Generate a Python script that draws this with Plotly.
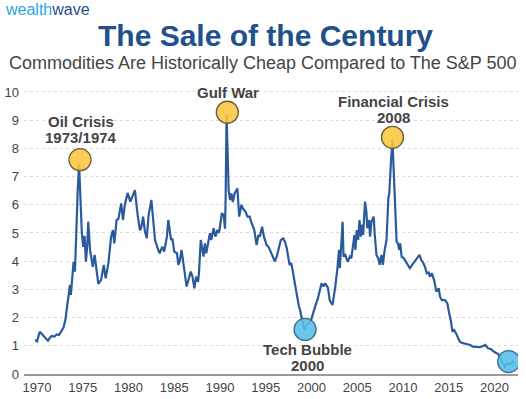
import plotly.graph_objects as go

# ---- data ----
years = [1969.8, 1970.0, 1970.3, 1970.5, 1970.7, 1971.0, 1971.2, 1971.4, 1971.6, 1971.9,
         1972.15, 1972.4, 1972.7, 1972.9, 1973.1, 1973.3, 1973.45, 1973.6, 1973.7, 1973.85,
         1974.0, 1974.15, 1974.3, 1974.45, 1974.6, 1974.75, 1974.9, 1975.05, 1975.2, 1975.35,
         1975.5, 1975.6, 1975.8, 1976.0, 1976.1, 1976.3, 1976.5, 1976.7, 1977.0, 1977.3,
         1977.5, 1977.8, 1978.1, 1978.3, 1978.45, 1978.7, 1978.9, 1979.2, 1979.4, 1979.6,
         1979.9, 1980.2, 1980.5, 1980.7, 1981.0, 1981.25, 1981.4, 1981.6, 1981.8, 1982.0,
         1982.2, 1982.5, 1982.7, 1982.9, 1983.25, 1983.4, 1983.7, 1983.9, 1984.2, 1984.35,
         1984.65, 1984.8, 1985.0, 1985.3, 1985.45, 1985.6, 1985.8, 1986.0, 1986.2, 1986.35,
         1986.5, 1986.8, 1987.0, 1987.2, 1987.4, 1987.6, 1987.7, 1987.9, 1988.2, 1988.35,
         1988.5, 1988.7, 1988.9, 1989.05, 1989.3, 1989.5, 1989.7, 1989.9, 1990.2, 1990.4,
         1990.55, 1990.62, 1990.72, 1990.82, 1990.95, 1991.1, 1991.25, 1991.4, 1991.6, 1991.9,
         1992.1, 1992.35, 1992.5, 1992.8, 1993.0, 1993.25, 1993.4, 1993.75, 1994.0, 1994.2,
         1994.35, 1994.6, 1994.8, 1995.1, 1995.3, 1995.45, 1995.8, 1996.0, 1996.2, 1996.35,
         1996.65, 1996.9, 1997.1, 1997.3, 1997.45, 1997.6, 1997.8, 1998.0, 1998.2, 1998.4,
         1998.6, 1998.75, 1998.9, 1999.1, 1999.2, 1999.45, 1999.7, 1999.95, 2000.1, 2000.3,
         2000.45, 2000.7, 2000.9, 2001.1, 2001.3, 2001.5, 2001.8, 2002.0, 2002.3, 2002.5,
         2002.6, 2002.85, 2003.0, 2003.1, 2003.2, 2003.4, 2003.5, 2003.7, 2003.95, 2004.2,
         2004.35, 2004.55, 2004.7, 2004.8, 2004.95, 2005.1, 2005.25, 2005.4, 2005.55, 2005.65,
         2005.85, 2006.0, 2006.1, 2006.3, 2006.4, 2006.55, 2006.8, 2006.9, 2007.1, 2007.3,
         2007.45, 2007.65, 2007.8, 2008.0, 2008.2, 2008.4, 2008.5, 2008.7, 2008.85, 2009.0,
         2009.2, 2009.3, 2009.45, 2009.6, 2009.7, 2009.85, 2010.1, 2010.3, 2010.5, 2010.75,
         2011.0, 2011.3, 2011.55, 2011.8, 2012.0, 2012.2, 2012.4, 2012.6, 2012.8, 2012.95,
         2013.15, 2013.4, 2013.65, 2013.9, 2014.05, 2014.25, 2014.6, 2014.85, 2015.05, 2015.25,
         2015.4, 2015.6, 2015.8, 2015.95, 2016.2, 2016.4, 2016.65, 2016.85, 2017.1, 2017.35,
         2017.65, 2018.0, 2018.4, 2018.75, 2019.0, 2019.3, 2019.6, 2019.95, 2020.4, 2020.75,
         2021.15, 2021.4, 2021.7, 2022.0, 2022.2]
ratio = [1.21, 1.16, 1.5, 1.42, 1.38, 1.25, 1.18, 1.28, 1.35, 1.33,
         1.4, 1.38, 1.52, 1.65, 1.91, 2.4, 2.85, 3.16, 2.8, 3.5,
         3.98, 3.63, 5.4, 6.5, 7.45, 6.2, 5.0, 4.51, 4.9, 3.98,
         4.6, 5.4, 4.4, 4.0, 3.8, 4.22, 3.75, 3.2, 3.33, 3.87,
         3.39, 3.92, 4.87, 5.1, 4.63, 5.46, 5.5, 6.05, 5.46, 6.0,
         6.42, 6.11, 6.35, 6.52, 5.64, 5.1, 5.2, 5.58, 5.05, 4.81,
         5.64, 6.17, 5.46, 4.75, 4.4, 4.28, 4.51, 4.34, 4.87, 5.46,
         4.75, 4.8, 4.34, 4.28, 3.87, 4.0, 4.4, 3.92, 3.33, 3.1,
         3.27, 3.63, 3.45, 3.04, 3.45, 3.27, 3.57, 4.75, 4.16, 4.63,
         4.28, 4.63, 4.99, 4.75, 5.17, 4.87, 5.1, 5.0, 5.7, 5.64,
         5.15, 6.3, 9.2, 8.0, 6.5, 6.17, 6.4, 6.1, 6.4, 6.58,
         5.58, 6.0, 5.87, 5.75, 5.58, 5.58, 5.4, 5.1, 4.57, 4.93,
         4.87, 5.22, 4.87, 4.57, 4.51, 4.4, 4.1, 3.99, 4.16, 4.4,
         4.75, 4.81, 4.69, 4.46, 4.16, 3.87, 3.93, 3.57, 3.1, 2.74,
         2.44, 2.27, 2.03, 1.8, 1.56, 1.74, 1.8, 1.91, 2.09, 2.27,
         2.44, 2.68, 2.92, 3.22, 3.1, 3.22, 3.05, 2.6, 2.45, 2.86,
         3.1, 3.8, 4.4, 3.75, 4.4, 5.4, 4.16, 4.22, 3.98, 4.16,
         4.1, 4.51, 4.93, 4.4, 5.1, 4.75, 5.46, 4.87, 5.3, 4.93,
         6.11, 5.75, 5.17, 5.46, 4.87, 5.4, 5.58, 5.0, 4.22, 4.1,
         3.87, 4.22, 3.87, 4.4, 4.75, 6.23, 6.4, 7.6, 8.3, 7.1,
         5.34, 4.69, 4.63, 4.4, 4.63, 4.16, 4.1, 3.99, 3.93, 3.75,
         3.87, 3.99, 4.1, 4.22, 4.04, 3.95, 3.8, 3.57, 3.6, 3.45,
         3.57, 3.33, 2.92, 3.04, 2.74, 2.62, 2.62, 2.5, 2.15, 1.86,
         1.5, 1.56, 1.44, 1.33, 1.15, 1.11, 1.09, 1.09, 1.06, 1.03,
         0.97, 0.95, 0.95, 0.99, 1.03, 0.91, 0.89, 0.79, 0.71, 0.5,
         0.26, 0.38, 0.33, 0.44, 0.38]

event_years = [1974.7, 1990.8, 1999.3, 2008.85, 2021.55]
event_values = [7.6, 9.28, 1.58, 8.39, 0.44]
event_kinds = ["peak", "peak", "trough", "peak", "trough"]
event_line1 = ["Oil Crisis", "Gulf War", "Tech Bubble", "Financial Crisis", ""]
event_line2 = ["1973/1974", "", "2000", "2008", ""]

x_ticks = [1970, 1975, 1980, 1985, 1990, 1995, 2000, 2005, 2010, 2015, 2020]
y_ticks = list(range(0, 11))

# ---- style ----
LINE = "#2a5a9c"
TXT = "#444444"
FONT = "Liberation Sans, Arial, sans-serif"
fill = {"peak": "rgba(250,198,60,0.88)", "trough": "rgba(86,190,236,0.88)"}
edge = {"peak": "#6b5d3c", "trough": "#3f6c88"}

fig = go.Figure()
fig.add_trace(go.Scatter(x=years, y=ratio, mode="lines",
                         line=dict(color=LINE, width=2.2), hoverinfo="skip"))
fig.add_trace(go.Scatter(
    x=event_years, y=event_values, mode="markers",
    marker=dict(size=22, color=[fill[k] for k in event_kinds],
                line=dict(color=[edge[k] for k in event_kinds], width=1.3)),
    hoverinfo="skip"))

annotations = []
# label offsets in pixels relative to the event marker
offsets = {"Oil Crisis": (1, 38, 22), "Gulf War": (1, 20, None),
           "Tech Bubble": (2, -20, -36), "Financial Crisis": (1, 36, 20)}
for yr, v, l1, l2 in zip(event_years, event_values, event_line1, event_line2):
    if not l1:
        continue
    dx, s1, s2 = offsets[l1]
    annotations.append(dict(x=yr, y=v, xref="x", yref="y", text=l1, showarrow=False,
                            xshift=dx, yshift=s1, yanchor="middle",
                            font=dict(family=FONT, size=15, color=TXT, weight="bold")))
    if l2:
        annotations.append(dict(x=yr, y=v, xref="x", yref="y", text=l2, showarrow=False,
                                xshift=dx, yshift=s2, yanchor="middle",
                                font=dict(family=FONT, size=15, color=TXT, weight="bold")))

annotations += [
    dict(x=0.488, y=1.185, xref="paper", yref="paper", showarrow=False,
         text="<b>The Sale of the Century</b>", yanchor="middle",
         font=dict(family=FONT, size=30, color="#21508f")),
    dict(x=0.484, y=1.087, xref="paper", yref="paper", showarrow=False,
         text="Commodities Are Historically Cheap Compared to The S&P 500", yanchor="middle",
         font=dict(family=FONT, size=18, color=TXT)),
    dict(x=-0.043, y=1.273, xref="paper", yref="paper", showarrow=False, xanchor="left",
         text="<span style='color:#2ba6de'>wealth</span><span style='color:#1f4e8c'>wave</span>",
         yanchor="middle", font=dict(family=FONT, size=16)),
]

fig.update_layout(
    width=526, height=399,
    margin=dict(l=24, r=8, t=88, b=25),
    paper_bgcolor="white", plot_bgcolor="white",
    showlegend=False,
    annotations=annotations,
    xaxis=dict(range=[1968.58, 2022.57], tickvals=x_ticks, ticktext=[str(t) for t in x_ticks],
               showgrid=False, zeroline=False, showline=True, linecolor="#9a9a9a", linewidth=2,
               ticks="", automargin=False, tickfont=dict(family=FONT, size=13, color=TXT)),
    yaxis=dict(range=[0, 10.14], tickvals=y_ticks, showgrid=True, gridcolor="#dcdcdc",
               griddash="dot", gridwidth=1, zeroline=False, showline=False, ticks="",
               automargin=False,
               tickfont=dict(family=FONT, size=13, color=TXT), ticklabelstandoff=4),
)

fig.write_html("out.html", config={"displayModeBar": False, "staticPlot": True},
               post_script="document.body.style.margin='0';")
